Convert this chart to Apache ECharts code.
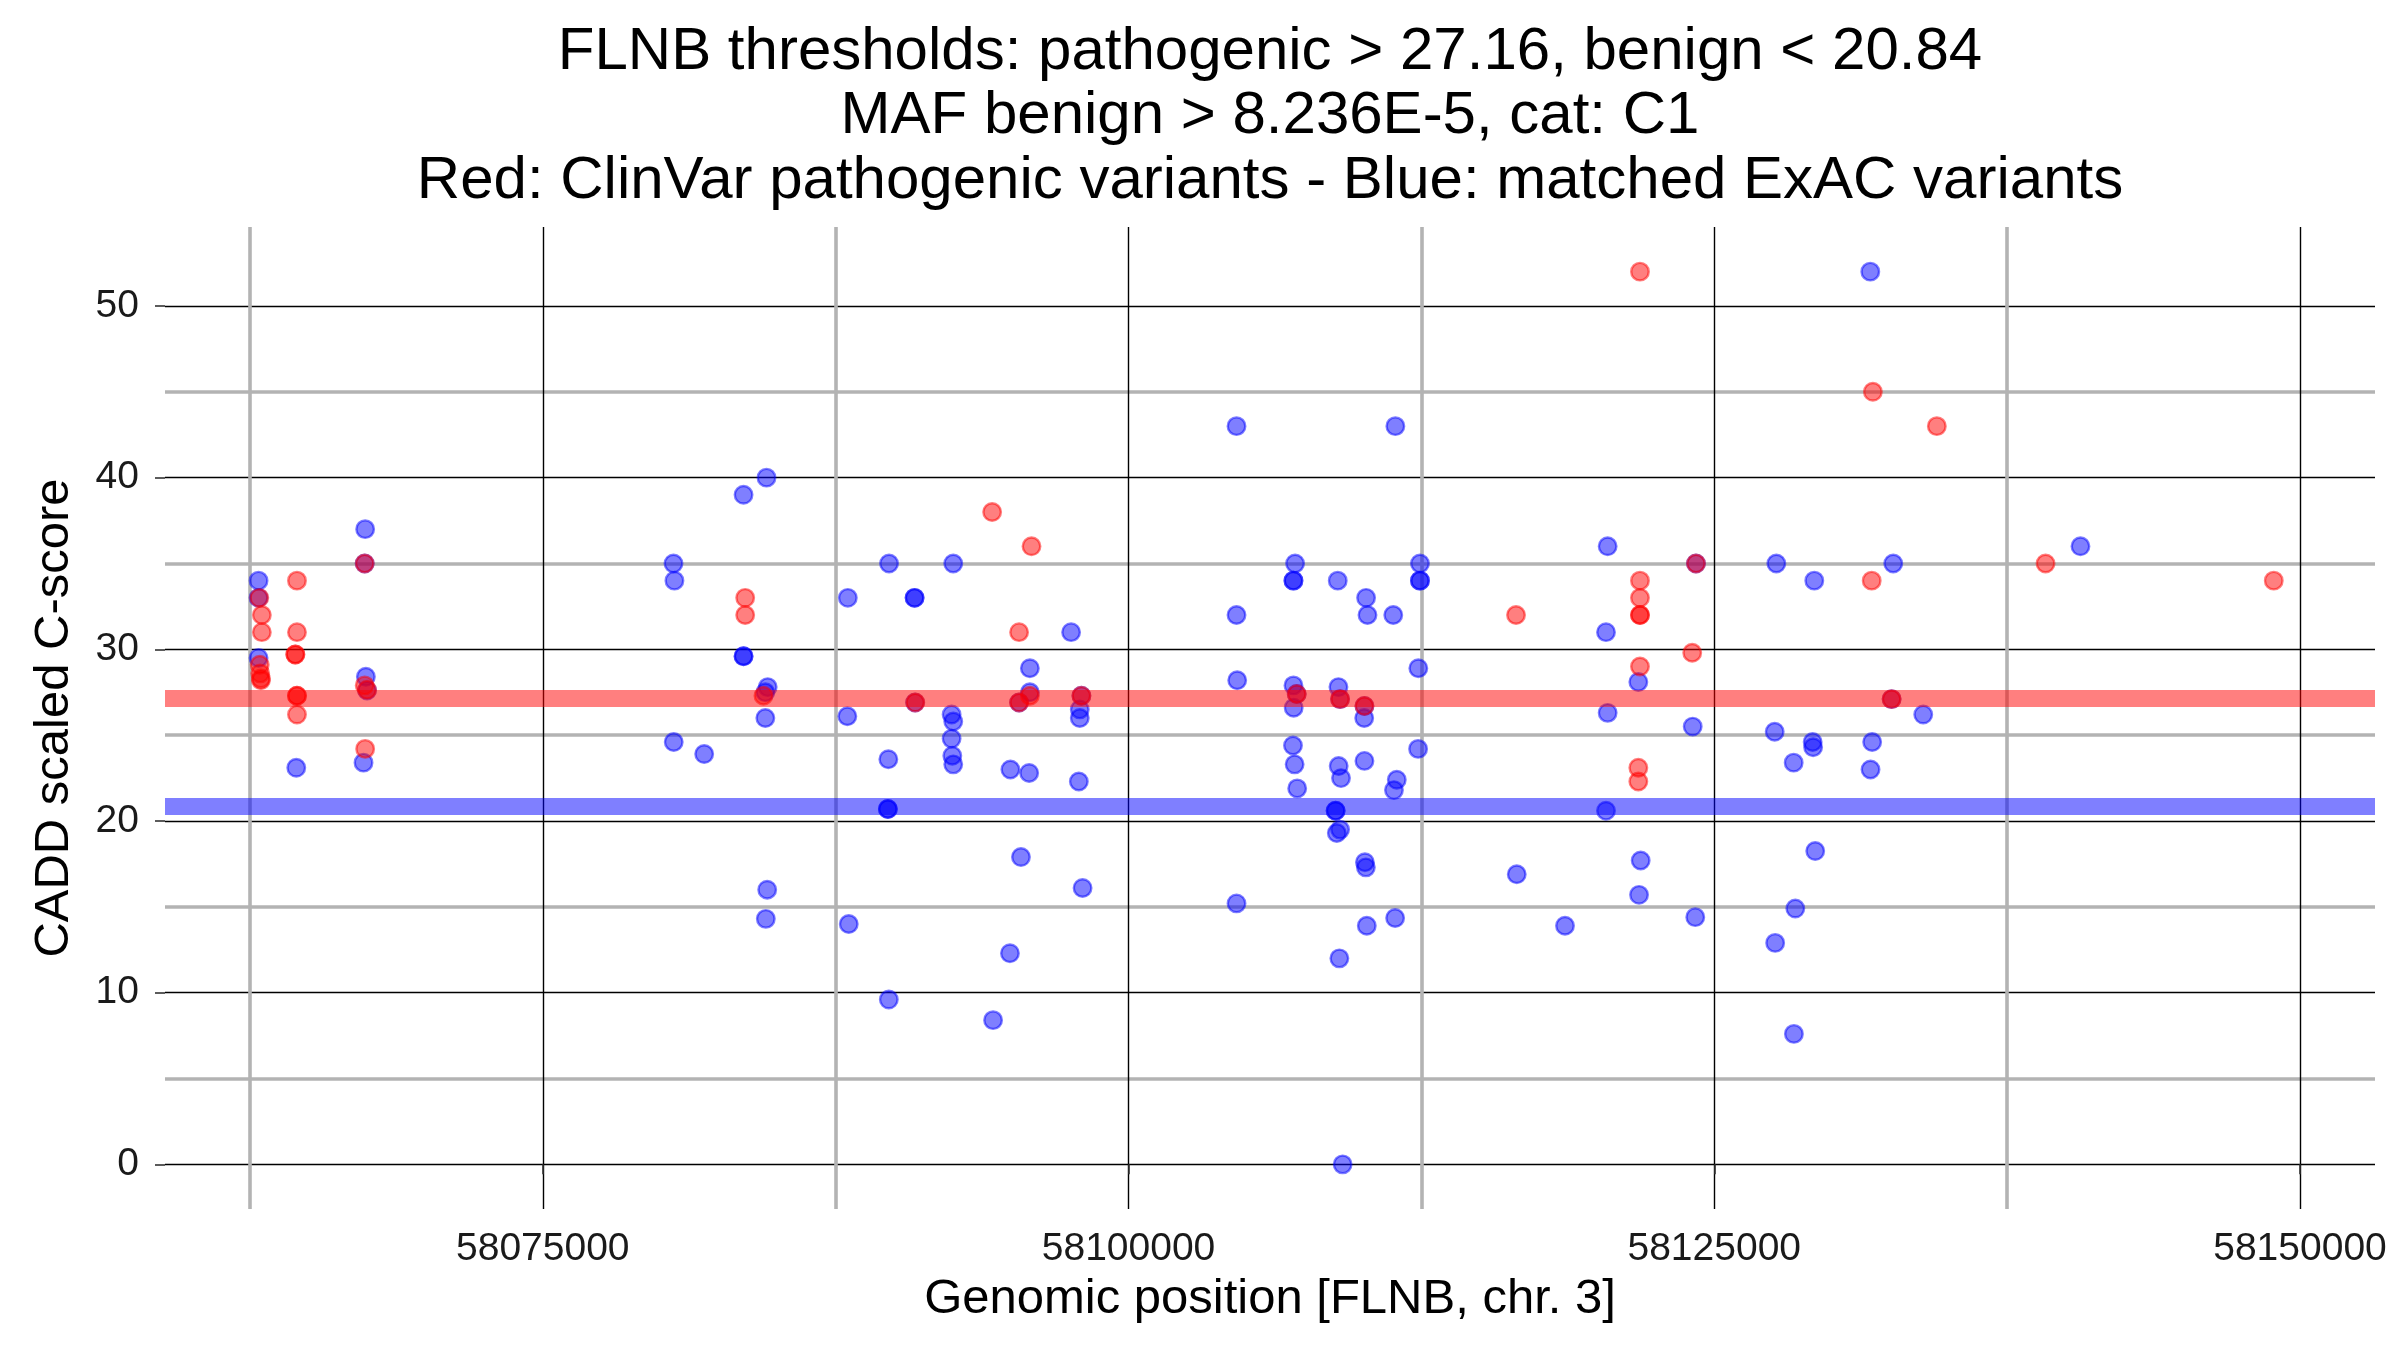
<!DOCTYPE html>
<html>
<head>
<meta charset="utf-8">
<script src="https://cdn.jsdelivr.net/npm/echarts@6/dist/echarts.min.js"></script>
<style>
html,body{margin:0;padding:0;background:#fff;}
#chart{width:2400px;height:1350px;}
</style>
</head>
<body>
<div id="chart"></div>
<script>
// ---- data ----
const titleLines = [
  'FLNB thresholds: pathogenic > 27.16, benign < 20.84',
  'MAF benign > 8.236E-5, cat: C1',
  'Red: ClinVar pathogenic variants - Blue: matched ExAC variants'
];
const xAxisTitle = 'Genomic position [FLNB, chr. 3]';
const yAxisTitle = 'CADD scaled C-score';
const xTicks = [58075000, 58100000, 58125000, 58150000];
const yTicks = [0, 10, 20, 30, 40, 50];
const pathogenicThreshold = [27.16];
const benignThreshold = [20.84];

// matched ExAC variants (blue)
const blueX = [
  58062870, 58062870, 58062870, 58067420, 58067400, 58067450, 58067500, 58067350, 58064480,
  58084550, 58083570, 58080580, 58080620, 58083570, 58083570, 58084600, 58084500, 58084500,
  58088020, 58088000, 58089780, 58090870, 58090870, 58090890, 58080590, 58081890, 58089750,
  58089730, 58089730, 58084580, 58084520, 58088060, 58089770,
  58104610, 58092520, 58097550, 58104610, 58095790, 58104640, 58095790, 58095330, 58097990,
  58097920, 58097920, 58092450, 58092520, 58092450, 58092480, 58092520, 58094960, 58095760,
  58097880, 58095410, 58098040, 58104610, 58094940, 58094220,
  58111390, 58120450, 58107110, 58107040, 58107040, 58108930, 58112440, 58112440, 58112440,
  58110140, 58110200, 58111300, 58120380, 58121760, 58112370, 58107040, 58107180, 58107050,
  58108960, 58109030, 58110070, 58110060, 58120450, 58107020, 58107090, 58107200, 58108970,
  58109070, 58110070, 58111450, 58111330, 58112360, 58108840, 58108840, 58108890, 58109030,
  58110090, 58110130, 58116570, 58121860, 58121790, 58111380, 58110170, 58118630, 58109000,
  58109140, 58120380,
  58131660, 58124220, 58127650, 58129270, 58132640, 58132570, 58133920, 58124080, 58127580,
  58129200, 58129220, 58131740, 58128390, 58131670, 58129310, 58124190, 58128460, 58127600,
  58128400,
  58140630
];
const blueY = [
  34.0, 33.0, 29.5, 37.0, 35.0, 28.4, 27.6, 23.4, 23.1,
  40.0, 39.0, 35.0, 34.0, 29.6, 29.6, 27.8, 27.5, 26.0,
  33.0, 26.1, 35.0, 33.0, 33.0, 26.9, 24.6, 23.9, 23.6,
  20.7, 20.7, 16.0, 14.3, 14.0, 9.6,
  43.0, 35.0, 31.0, 32.0, 28.9, 28.2, 27.5, 26.9, 27.3,
  26.5, 26.0, 26.2, 25.8, 24.8, 23.8, 23.3, 23.0, 22.8,
  22.3, 17.9, 16.1, 15.2, 12.3, 8.4,
  43.0, 36.0, 35.0, 34.0, 34.0, 34.0, 35.0, 34.0, 34.0,
  33.0, 32.0, 32.0, 31.0, 28.1, 28.9, 27.9, 27.4, 26.6,
  27.8, 27.1, 26.7, 26.0, 26.3, 24.4, 23.3, 21.9, 23.2,
  22.5, 23.5, 22.4, 21.8, 24.2, 20.6, 20.6, 19.3, 19.5,
  17.6, 17.3, 16.9, 17.7, 15.7, 14.35, 13.9, 13.9, 12.0,
  0.0, 20.6,
  52.0, 35.0, 35.0, 34.0, 35.0, 27.1, 26.2, 25.5, 25.2,
  24.6, 24.3, 24.6, 23.4, 23.0, 18.25, 14.4, 14.9, 12.9,
  7.6,
  36.0
];

// ClinVar pathogenic variants (red)
const redX = [
  58062900, 58063010, 58063010, 58062920, 58062940, 58062970, 58062970, 58064510, 58064510,
  58064440, 58064440, 58064510, 58064510, 58064510, 58067400, 58067400, 58067500, 58067420,
  58083640, 58083640, 58084420, 58090900,
  58094180, 58095860, 58095330, 58095790, 58095330, 58097990,
  58121830, 58116540, 58121830, 58121830, 58121830, 58121830, 58121830, 58107180, 58109030,
  58110070, 58121760, 58121760,
  58131770, 58134500, 58124220, 58131720, 58124060, 58132570,
  58139140, 58148880
];
const redY = [
  33.0, 32.0, 31.0, 29.1, 28.6, 28.3, 28.2, 34.0, 31.0,
  29.7, 29.7, 27.3, 27.3, 26.2, 35.0, 27.9, 27.65, 24.2,
  33.0, 32.0, 27.3, 26.9,
  38.0, 36.0, 31.0, 27.3, 26.9, 27.3,
  52.0, 32.0, 34.0, 33.0, 32.0, 32.0, 29.0, 27.4, 27.1,
  26.7, 23.1, 22.3,
  45.0, 43.0, 35.0, 34.0, 29.8, 27.1,
  35.0, 34.0
];

// ---- chart ----
const FONT = '"Liberation Sans", Arial, Helvetica, sans-serif';
const zip = (xs, ys) => xs.map((x, i) => [x, ys[i]]);

const chart = echarts.init(document.getElementById('chart'), null, {renderer: 'canvas'});

const titleTops = [22, 86, 151];
const option = {
  animation: false,
  backgroundColor: '#ffffff',
  title: titleLines.map((t, i) => ({
    text: t,
    left: 1270,
    textAlign: 'center',
    top: titleTops[i],
    padding: 0,
    textStyle: {fontFamily: FONT, fontSize: 60, fontWeight: 'normal', color: '#000', lineHeight: 60}
  })),
  grid: {left: 165, right: 25, top: 227, bottom: 141, containLabel: false},
  xAxis: {
    type: 'value',
    min: 58058877,
    max: 58153201,
    minInterval: 25000,
    maxInterval: 25000,
    name: xAxisTitle,
    nameLocation: 'middle',
    nameGap: 66,
    nameTextStyle: {fontFamily: FONT, fontSize: 49, color: '#000'},
    axisLine: {show: false},
    axisTick: {show: true, length: 10, customValues: xTicks, lineStyle: {color: '#333', width: 1.6}},
    axisLabel: {
      customValues: xTicks,
      fontFamily: FONT, fontSize: 39, color: '#1a1a1a', margin: 21,
      formatter: v => String(v)
    },
    splitLine: {show: true, lineStyle: {color: '#000', width: 1.4}},
    minorTick: {show: false, splitNumber: 2},
    minorSplitLine: {show: true, lineStyle: {color: '#b3b3b3', width: 3.6}}
  },
  yAxis: {
    type: 'value',
    min: -2.6,
    max: 54.6,
    minInterval: 10,
    maxInterval: 10,
    name: yAxisTitle,
    nameLocation: 'middle',
    nameGap: 86,
    nameRotate: 90,
    nameTextStyle: {fontFamily: FONT, fontSize: 49, color: '#000'},
    axisLine: {show: false},
    axisTick: {show: true, length: 10, customValues: yTicks, lineStyle: {color: '#333', width: 1.6}},
    axisLabel: {
      customValues: yTicks,
      fontFamily: FONT, fontSize: 39, color: '#1a1a1a', margin: 26
    },
    splitLine: {show: true, lineStyle: {color: '#000', width: 1.4}},
    minorTick: {show: false, splitNumber: 2},
    minorSplitLine: {show: true, lineStyle: {color: '#b3b3b3', width: 3.6}}
  },
  series: [
    {
      type: 'line',
      data: [],
      silent: true,
      z: 1,
      markLine: {
        silent: true,
        symbol: ['none', 'none'],
        label: {show: false},
        data: [
          {yAxis: pathogenicThreshold[0], lineStyle: {color: 'rgba(255,0,0,0.5)', width: 17, type: 'solid'}},
          {yAxis: benignThreshold[0], lineStyle: {color: 'rgba(0,0,255,0.5)', width: 17, type: 'solid'}}
        ]
      }
    },
    {
      name: 'ExAC',
      type: 'scatter',
      z: 2,
      symbol: 'circle',
      symbolSize: 17.5,
      itemStyle: {color: 'rgba(0,0,255,0.5)', borderColor: 'rgba(0,0,255,0.5)', borderWidth: 2.4, opacity: 1},
      data: zip(blueX, blueY)
    },
    {
      name: 'ClinVar',
      type: 'scatter',
      z: 3,
      symbol: 'circle',
      symbolSize: 17.5,
      itemStyle: {color: 'rgba(255,0,0,0.5)', borderColor: 'rgba(255,0,0,0.5)', borderWidth: 2.4, opacity: 1},
      data: zip(redX, redY)
    }
  ]
};
chart.setOption(option);
</script>
</body>
</html>
